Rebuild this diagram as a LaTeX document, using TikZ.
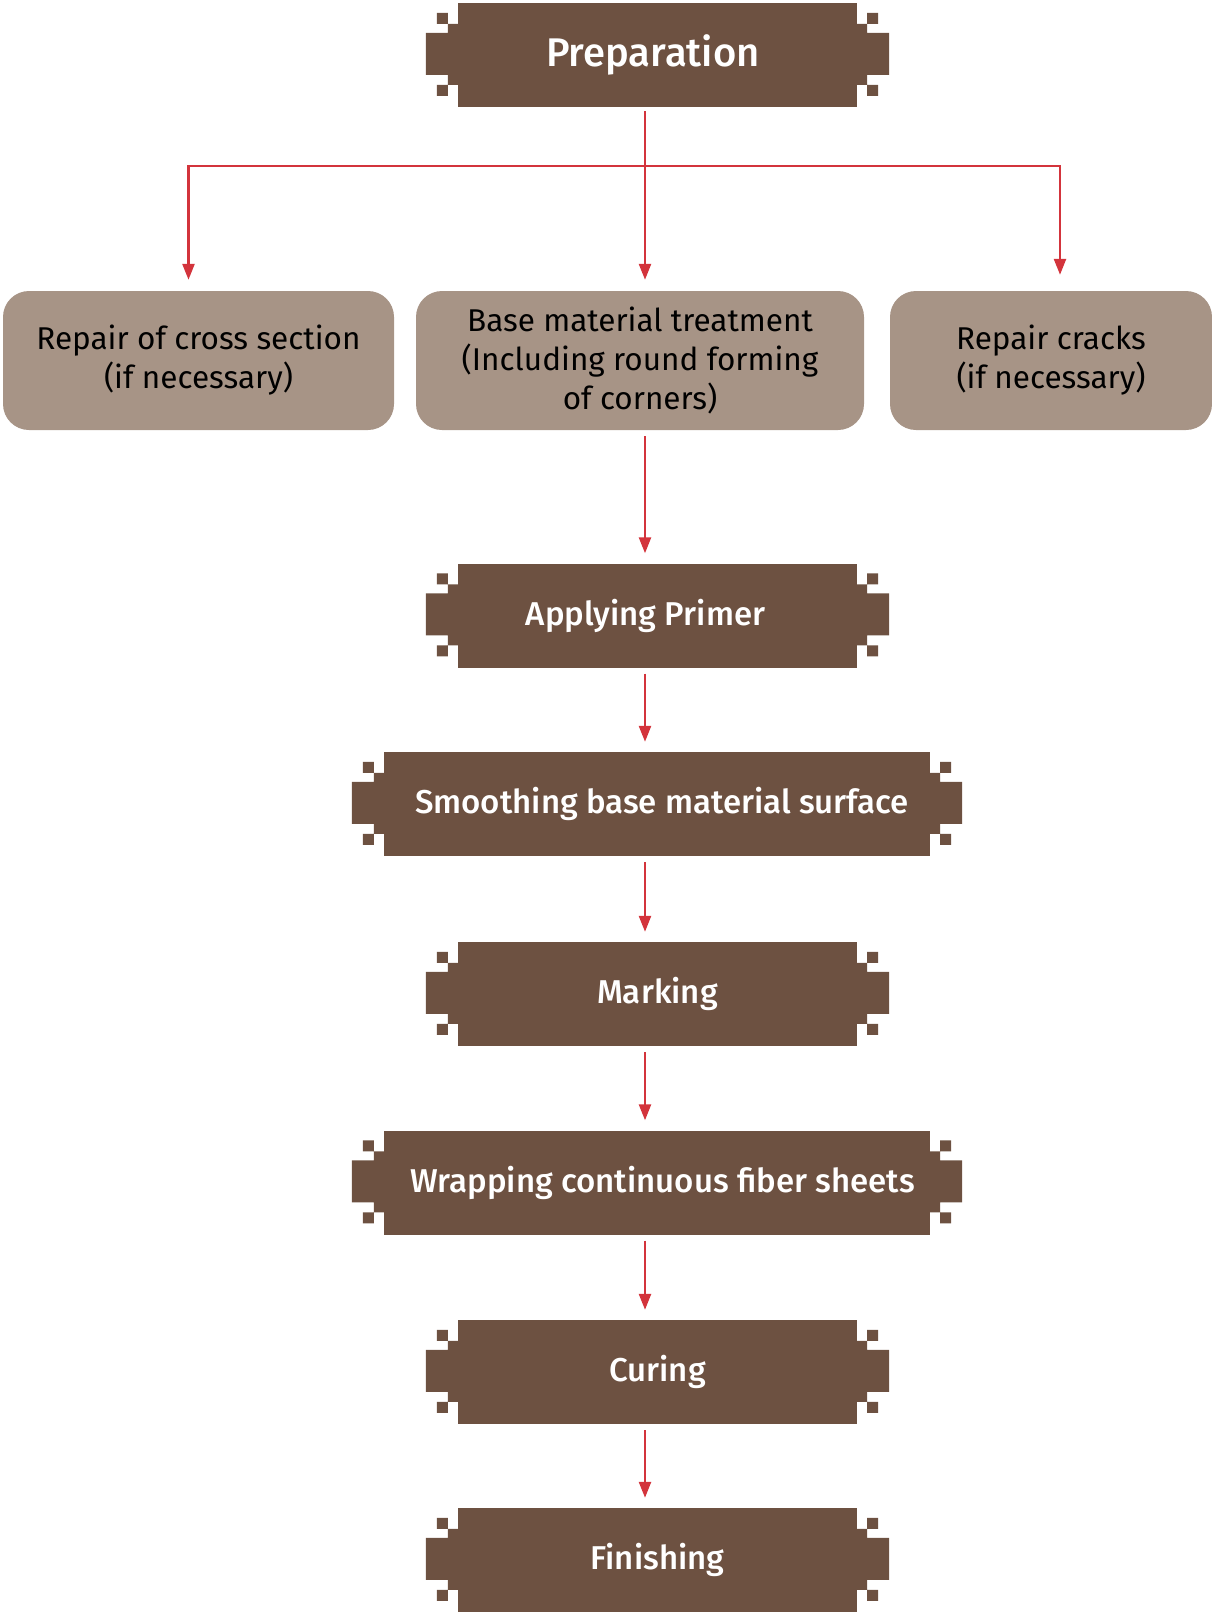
\documentclass[tikz,border=0pt]{standalone}
\usepackage{fontspec}
\setmainfont{Fira Sans}[BoldFont={Fira Sans Medium}]
\usetikzlibrary{arrows.meta}
\definecolor{darkbrown}{RGB}{109,81,65}
\definecolor{lightbrown}{RGB}{167,148,134}
\definecolor{flowred}{RGB}{211,52,60}
\begin{document}
\begin{tikzpicture}[x=1pt, y=-1pt,
  stepnode/.style={fill=darkbrown, text=white, minimum height=104pt, inner sep=0pt,
    font=\fontsize{33}{38}\selectfont\bfseries},
  optnode/.style={fill=lightbrown, rounded corners=26pt, minimum height=139pt, inner sep=0pt,
    align=center, font=\fontsize{31.5}{39}\selectfont},
  flow/.style={draw=flowred, line width=2.5pt, -{Triangle[length=16pt,width=12pt]}}]
    \useasboundingbox (0,0) rectangle (1212,1612);
    \path (645,166) coordinate (fork)
          (645,0) coordinate (spine);
    \node[stepnode, minimum width=399pt, font=\fontsize{40}{44}\selectfont\bfseries] (prep) at (657.5,55) {Preparation\kern9pt\relax};
    \node[optnode, minimum width=391pt] (crosssec) at (198.5,360.5) {Repair of cross section\\(if necessary)};
    \node[optnode, minimum width=448pt] (base) at (640,360.5) {Base material treatment\\(Including round forming\\of corners)};
    \node[optnode, minimum width=322pt] (cracks) at (1051,360.5) {Repair cracks\\(if necessary)};
    \node[stepnode, minimum width=399pt] (primer) at (657.5,615.5) {Applying Primer\kern24pt\relax};
    \node[stepnode, minimum width=546pt] (smooth) at (657,804) {\hspace*{10pt}Smoothing base material surface};
    \node[stepnode, minimum width=399pt] (mark) at (657.5,994) {Marking};
    \node[stepnode, minimum width=546pt] (wrap) at (657,1182.5) {\hspace*{11pt}Wrapping continuous fiber sheets};
    \node[stepnode, minimum width=399pt] (cure) at (657.5,1372) {Curing};
    \node[stepnode, minimum width=399pt] (finish) at (657.5,1560) {Finishing};
    \foreach \n in {prep,primer,smooth,mark,wrap,cure,finish}
      \fill[darkbrown] ([shift={(-1,21)}]\n.north east) rectangle ++(11,61)
          ([shift={(10,30)}]\n.north east) rectangle ++(22,42)
          ([shift={(10,10)}]\n.north east) rectangle ++(11,11)
          ([shift={(10,82)}]\n.north east) rectangle ++(11,11)
          ([shift={(1,21)}]\n.north west) rectangle ++(-11,61)
          ([shift={(-10,30)}]\n.north west) rectangle ++(-22,42)
          ([shift={(-10,10)}]\n.north west) rectangle ++(-11,11)
          ([shift={(-10,82)}]\n.north west) rectangle ++(-11,11);
    \draw[flow] ([yshift=-4pt]prep.south -| spine) -- ([yshift=11pt]base.north -| spine);
    \draw[flow] (fork) -| ([xshift=-10pt,yshift=11pt]crosssec.north);
    \draw[flow] (fork) -| ([xshift=9pt,yshift=16pt]cracks.north);
    \foreach \a/\b in {base/primer,primer/smooth,smooth/mark,mark/wrap,wrap/cure,cure/finish}
      \draw[flow, shorten <=6pt, shorten >=10pt] (\a.south -| spine) -- (\b.north -| spine);
\end{tikzpicture}
\end{document}
